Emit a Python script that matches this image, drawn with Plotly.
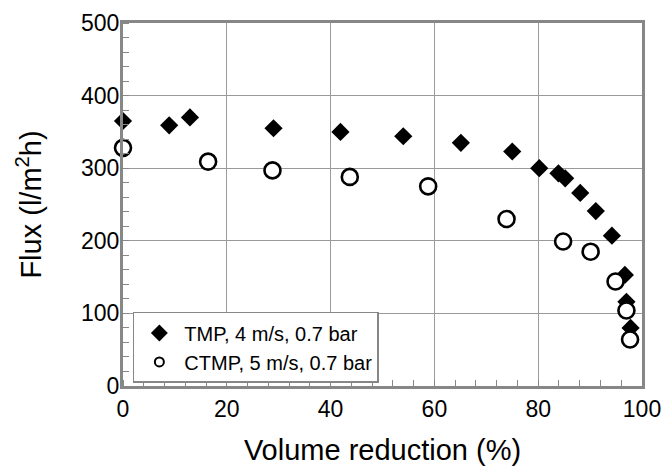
import plotly.graph_objects as go

# Volume reduction (%) and permeate flux (l/m2h) for the two pulps
tmp_reduction = [0, 8.9, 12.9, 29.0, 41.9, 54.0, 65.1, 75.0, 80.2, 83.9, 85.2, 88.1, 91.1, 94.2, 96.7, 97.0, 97.8]
tmp_flux = [365, 359, 370, 355, 350, 344, 335, 323, 300, 293, 286, 266, 241, 207, 153, 116, 80]

ctmp_reduction = [0, 16.4, 28.8, 43.7, 58.8, 73.9, 84.8, 90.1, 94.9, 97.0, 97.7]
ctmp_flux = [328, 309, 297, 288, 275, 230, 199, 185, 144, 104, 64]

tmp_label = "TMP, 4 m/s, 0.7 bar"
ctmp_label = "CTMP, 5 m/s, 0.7 bar"

x_ticks = [0, 20, 40, 60, 80, 100]
y_ticks = [0, 100, 200, 300, 400, 500]

FONT = "Arial, Liberation Sans, sans-serif"
FRAME = "#878787"
GRID = "#9a9a9a"

fig = go.Figure()

fig.add_trace(go.Scatter(
    x=tmp_reduction, y=tmp_flux, mode="markers", name=tmp_label,
    showlegend=False, cliponaxis=False,
    marker=dict(symbol="diamond", size=14, color="black", line=dict(width=0)),
))
fig.add_trace(go.Scatter(
    x=ctmp_reduction, y=ctmp_flux, mode="markers", name=ctmp_label,
    showlegend=False, cliponaxis=False,
    marker=dict(symbol="circle", size=16, color="white", line=dict(width=2.6, color="black")),
))

# legend entries with their own (smaller) key symbols
fig.add_trace(go.Scatter(
    x=[None], y=[None], mode="markers", name=tmp_label, legendgroup="a",
    marker=dict(symbol="diamond", size=13, color="black", line=dict(width=0)),
))
fig.add_trace(go.Scatter(
    x=[None], y=[None], mode="markers", name=ctmp_label, legendgroup="b",
    marker=dict(symbol="circle", size=9, color="white", line=dict(width=2, color="black")),
))

axis_common = dict(
    showline=True, linewidth=3, linecolor=FRAME, mirror=True,
    showgrid=True, gridcolor=GRID, gridwidth=1.3,
    ticks="", zeroline=False, automargin=False,
    tickfont=dict(family=FONT, size=23, color="black"),
)

fig.update_xaxes(
    **axis_common,
    range=[0, 100], tickvals=x_ticks, ticktext=[str(v) for v in x_ticks],
    minor=dict(dtick=4, ticks="inside", ticklen=6, tickcolor=FRAME, tickwidth=1, showgrid=False),
    title=dict(text="Volume reduction (%)", font=dict(family=FONT, size=29, color="black"), standoff=20),
)
fig.update_yaxes(
    **axis_common,
    range=[0, 500], tickvals=y_ticks, ticktext=[str(v) for v in y_ticks],
    minor=dict(dtick=20, ticks="inside", ticklen=6, tickcolor=FRAME, tickwidth=1, showgrid=False),
    ticklabelstandoff=-4,
    title=dict(text="Flux (l/m<sup>2</sup>h)", font=dict(family=FONT, size=29, color="black"), standoff=31),
)

fig.update_layout(
    width=664, height=472,
    margin=dict(l=123, r=22, t=23, b=86),
    paper_bgcolor="white", plot_bgcolor="white",
    font=dict(family=FONT, color="black"),
    legend=dict(
        x=0.019, y=0.204, xanchor="left", yanchor="top",
        bgcolor="white", bordercolor=FRAME, borderwidth=1.5,
        font=dict(family=FONT, size=20, color="black"),
        tracegroupgap=0, traceorder="grouped", itemwidth=40,
    ),
)

fig.write_html("out.html")
